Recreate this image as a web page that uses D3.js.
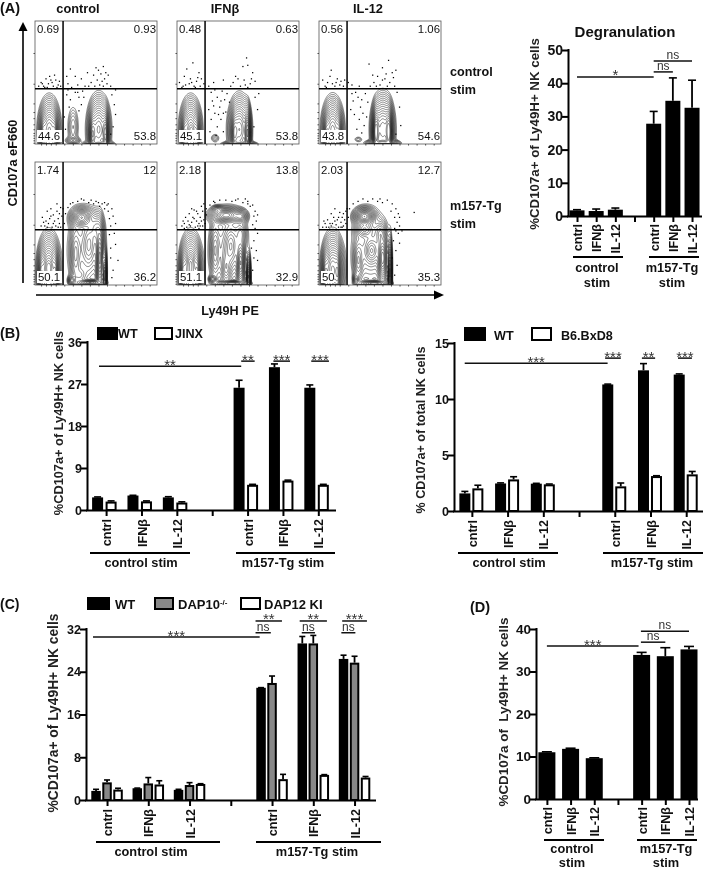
<!DOCTYPE html>
<html><head><meta charset="utf-8">
<script src="https://cdn.jsdelivr.net/npm/d3@7/dist/d3.min.js"></script>
<style>
html,body{margin:0;padding:0;background:#fff}
svg{display:block;filter:blur(.3px)}
text{font-family:"Liberation Sans",Arial,sans-serif;fill:#111}
</style></head><body><svg id="c" width="704" height="869"></svg>
<script>
// ---------- categories ----------
const categories = ['cntrl','IFNβ','IL-12','','cntrl','IFNβ','IL-12'];
const flowTitles = ['control','IFNβ','IL-12'];

// ---------- Panel A bars ----------
const aValues = [1.7,1.5,1.9,null,27.8,34.7,32.6];
const aErrors = [0.2,0.6,0.5,null,3.7,6.9,8.3];
const aSig = [[0,4,41.9,'*'],[4,5,43.4,'ns'],[4,6,46.7,'ns']];

// ---------- Panel B left ----------
const bWT = [2.7,3.1,2.7,null,26.2,30.6,26.2];
const bWTerr = [0.1,0.05,0.15,null,1.6,0.7,0.6];
const bJINX = [1.8,1.85,1.6,null,5.4,6.3,5.4];
const bJINXerr = [0.15,0.1,0.15,null,0.1,0.1,0.1];
const bSig = [[-0.2,3.82,30.8,'**'],[3.82,4.2,31.9,'**'],[4.73,5.2,31.9,'***'],[5.8,6.3,31.9,'***']];

// ---------- Panel B right ----------
const b2WT = [1.57,2.46,2.44,null,11.3,12.56,12.18];
const b2WTerr = [0.18,0.05,0.03,null,0.03,0.6,0.06];
const b2BxD8 = [2.02,2.82,2.38,null,2.2,3.12,3.27];
const b2BxD8err = [0.28,0.24,0.03,null,0.3,0.03,0.26];
const b2Sig = [[-0.2,3.8,13.2,'***'],[3.73,4.17,13.65,'***'],[4.76,5.13,13.65,'**'],[5.77,6.16,13.65,'***']];

// ---------- Panel C ----------
const cWT = [1.7,2.2,1.9,null,21,29.3,26.4];
const cWTerr = [0.3,0.03,0.1,null,0.03,1.3,0.7];
const cDAP10 = [3.3,3.1,2.8,null,21.9,29.3,25.7];
const cDAP10err = [0.45,1.1,0.45,null,1.3,1.5,1.2];
const cDAP12 = [1.95,2.9,3,null,3.9,4.7,4.2];
const cDAP12err = [0.25,0.7,0.05,null,0.9,0.05,0.2];
const cSig = [[-0.34,3.7,30.5,'***'],[3.6,4.24,33.5,'**'],[4.67,5.33,33.5,'**'],[5.7,6.3,33.5,'***'],
              [3.6,3.97,31.3,'ns'],[4.72,5.04,31.3,'ns'],[5.68,6.02,31.3,'ns']];

// ---------- Panel D ----------
const dValues = [11,11.8,9.6,null,33.9,33.6,35.2];
const dErrors = [0.1,0.15,0.1,null,0.6,2,0.7];
const dSig = [[0,3.87,36,'***'],[3.97,5,36.9,'ns'],[3.97,6,39.5,'ns']];

// ---------- Flow gate percentages: [UL, UR, LL, LR] ----------
const flowGatePct = [
  ['0.69','0.93','44.6','53.8'],['0.48','0.63','45.1','53.8'],['0.56','1.06','43.8','54.6'],
  ['1.74','12','50.1','36.2'],['2.18','13.8','51.1','32.9'],['2.03','12.7','50','35.3']];

// ---------- Flow populations: [cx, cy, sx, sy, weight] on a 0-100 plot scale ----------
const flowPops0 = [[11.5,11,4.9,14.5,.8],[6.5,8,1.6,9,.4],[16,9,1.6,9,.4],[52,12,5.2,15,.8],[47,8,1.7,10,.7],[57.5,8,1.5,11,.9],[52,0,7,1.5,.5],[31,14,3.5,13,.09],[31,3,4,2,.15]];
const flowPops1 = [[11,11,4.9,14.5,.8],[6,8,1.6,9,.4],[16,9,1.6,9,.4],[12,12,2,3,.3],[51,12,5.2,15,.75],[47,9,1.7,10,.5],[57.5,9,1.5,12,1.1],[51,0,8,1.5,.5],[31,5,3,3,.06]];
const flowPops2 = [[11,11,4.9,14.5,.85],[6,8,1.6,9,.4],[16,9,1.6,9,.4],[12,7,2,3,.3],[52,12,5.2,15.5,.9],[46.5,10,1.7,11,1.3],[57,10,1.7,11,1.3],[52,1,7,1.5,1],[32,4,3,2,.05]];
const flowPops3 = [[11,12,5,16,.95],[5,9,1.7,11,.4],[16.5,10,1.5,11,.4],[11,15,2,4,.25],[42,30,11,23,.12],[38,55,5.5,5,.6],[33,25,3,17,.2],[44,33,4,13,.2],[53,22,2,17,.8],[57,8,1,12,.7],[30,4,2,2.5,.3],[45,2,7,1.5,.5],[37,8,4,5,.1],[50,46,4,9,.2]];
const flowPops4 = [[11,12,5,16,.95],[5,9,1.7,11,.4],[16.5,10,1.5,11,.4],[11,19,2,4,.2],[42,30,11,23,.12],[40,57,8,3.8,.7],[52,56,3.5,3.5,.3],[33,62,3,1.8,.2],[31,28,2.8,16,.2],[44,32,4,12,.25],[40,14,3,10,.2],[52,18,2.2,12,.6],[58.5,7,1,10,.8],[45,1.5,8,1.4,.6],[29,5,2,2,.25],[52,42,3.5,7,.15]];
const flowPops5 = [[11,12,5,16,1],[5,9,1.7,11,.45],[15,10,1.5,12,.5],[42,30,11,23,.12],[37,56,5,4.2,.9],[37,45,5,4.2,.25],[32,20,2.8,12,.2],[43,28,4,7,.25],[52,22,2.5,12,.7],[58,10,1,16,.8],[45,1.5,8,1.4,.4],[30,5,1.6,3,.2],[50,42,3.5,7,.18]];
const contourLevels = [.022,.03,.04,.052,.068,.088,.112,.142,.18,.225,.28,.345,.42,.51,.62,.75,.92,1.15];

// ---------- Outlying events: [x, y] on the same scale ----------
const flowDots0 = [[3,47],[5,50],[7,47],[9,53],[11,49],[12,55],[14,50],[15,47],[17,52],[19,48],[20,51],[16,56],[8,46],[6,49],[10,46],[13,52],[18,46],[21,47],[26,55],[27,49],[29,61],[30,46],[33,55],[35,48],[38,53],[41,47],[43,58],[46,50],[48,56],[50,62],[52,60],[54,57],[56,63],[55,51],[57,53],[59,49],[60,56],[51,52],[53,48],[56,47],[49,47],[58,58],[44,47],[62,47],[26,40],[29,36],[33,42],[36,38],[39,43],[28,30],[40,38],[24,22],[63,40],[65,32],[66,24],[64,14],[62,8],[66,44],[25,12],[36,27],[27,44],[35,42],[38,32]];
const flowDots1 = [[2,50],[5,47],[6,55],[8,61],[10,49],[11,53],[13,66],[14,47],[16,51],[18,58],[19,47],[20,53],[22,49],[4,46],[7,48],[12,50],[15,46],[17,54],[26,47],[28,42],[29,35],[31,44],[33,38],[35,30],[37,43],[39,36],[41,41],[26,28],[28,20],[31,25],[33,14],[36,20],[38,10],[27,10],[32,7],[38,25],[34,24],[30,31],[36,35],[40,26],[43,34],[46,50],[48,55],[52,47],[54,63],[55,52],[57,70],[58,64],[60,49],[61,53],[62,58],[64,51],[50,53],[64,38],[66,28],[63,14],[67,41],[30,50],[38,52],[44,47],[56,48],[58,46]];
const flowDots2 = [[3,52],[5,47],[7,50],[9,55],[11,49],[13,47],[15,53],[17,48],[18,51],[20,47],[21,52],[10,60],[6,46],[14,50],[24,50],[27,48],[30,42],[28,35],[32,38],[34,30],[36,25],[29,24],[33,20],[37,15],[31,12],[38,41],[40,34],[27,41],[35,36],[42,47],[45,50],[48,55],[50,48],[52,62],[54,53],[55,57],[57,68],[58,50],[60,58],[61,54],[62,47],[63,60],[41,65],[44,56],[33,47],[52,52],[56,47],[47,47],[64,42],[66,30],[67,15],[63,8],[26,28],[39,22],[35,9]];
const flowDots3 = [[6,55],[8,48],[9,52],[10,60],[11,50],[12,54],[13,62],[14,47],[15,57],[16,52],[17,48],[18,60],[19,54],[20,50],[21,63],[22,56],[21,47],[18,66],[23,62],[25,58],[27,63],[29,66],[31,67],[35,68],[40,69],[44,67],[48,66],[50,68],[53,64],[55,66],[57,62],[59,65],[60,60],[61,54],[62,48],[63,62],[64,56],[65,42],[66,33],[68,20],[62,30],[64,12],[60,66],[66,50],[5,48],[24,50],[10,47],[15,50],[13,56],[7,51],[19,47],[20,58],[52,67],[57,67],[46,69],[38,70],[61,41],[62,22],[63,6]];
const flowDots4 = [[4,48],[6,50],[7,55],[8,47],[9,52],[10,58],[11,48],[12,51],[13,55],[14,61],[15,47],[16,52],[17,58],[18,50],[19,55],[20,64],[21,48],[21,60],[22,53],[22,66],[24,62],[24,57],[27,65],[31,67],[35,69],[40,69],[45,68],[50,70],[54,67],[58,68],[62,65],[64,60],[66,57],[60,64],[63,56],[65,52],[62,49],[64,46],[66,42],[63,36],[65,28],[66,20],[62,12],[58,66],[20,52],[17,48],[12,62],[5,52],[10,49],[14,54],[18,46],[16,60],[19,48],[23,50],[6,46],[61,30],[63,22],[48,69],[56,70],[30,68]];
const flowDots5 = [[3,47],[5,50],[7,53],[8,47],[10,58],[11,50],[12,55],[13,62],[14,49],[15,53],[16,47],[17,59],[18,51],[19,55],[20,48],[21,53],[22,60],[23,62],[25,62],[28,66],[32,68],[36,70],[40,68],[44,70],[48,68],[52,67],[56,69],[60,66],[63,62],[65,58],[59,60],[62,55],[64,51],[66,48],[62,46],[65,42],[66,34],[63,28],[64,16],[62,8],[66,55],[78,59],[68,44],[10,48],[19,47],[4,52],[6,47],[9,50],[13,52],[16,55],[18,47],[20,58],[22,50],[24,55],[61,36],[60,22],[63,44],[50,70]];

// ---------- layout ----------
const FW=122, FH=123;
const flowX=[35,177,319], flowY=[21,162];
const gateX=23, gateY=45;
const svg=d3.select('#c');

function txt(x,y,s,size,bold,opt={}){
  const t=svg.append('text').attr('x',x).attr('y',y).attr('font-size',size).text(s)
    .attr('text-anchor',opt.anchor||'start');
  if(bold)t.attr('font-weight','bold');
  if(opt.rot)t.attr('transform',`rotate(-90 ${x} ${y})`);
  if(opt.pre)t.style('white-space','pre');
  return t;
}
function rule(x1,y,x2,w){svg.append('line').attr('x1',x1).attr('x2',x2).attr('y1',y).attr('y2',y).attr('stroke','#000').attr('stroke-width',w||2);}

// ---------- flow plot ----------
function density(pops,n){
  const v=new Float64Array(n*n);
  for(let j=0;j<n;j++)for(let i=0;i<n;i++){
    const X=i/n*100, Y=100-j/n*100; let s=0;
    for(const [cx,cy,sx,sy,w] of pops){
      s+=w*Math.exp(-Math.pow(Math.hypot((X-cx)/sx,(Y-cy)/sy),1.7));
    }
    v[i+j*n]=s;
  }
  return v;
}
const clipDefs=svg.append('defs');
function flow(k,col,row,pops,dots){
  const x0=flowX[col],y0=flowY[row];
  const xs=d3.scaleLinear().domain([0,100]).range([x0,x0+FW]);
  const ys=d3.scaleLinear().domain([0,100]).range([y0+FH,y0]);
  const n=240;
  clipDefs.append('clipPath').attr('id','f'+k).append('rect').attr('x',x0).attr('y',y0).attr('width',FW).attr('height',FH);
  const g=svg.append('g').attr('clip-path',`url(#f${k})`);
  const cs=d3.contours().size([n,n]).thresholds(contourLevels)(density(pops,n));
  const proj=d3.geoTransform({point(px,py){this.stream.point(xs(px/n*100),ys(100-py/n*100));}});
  const path=d3.geoPath(proj);
  g.selectAll('path').data(cs).join('path').attr('d',path).attr('fill','none').attr('stroke','#111').attr('stroke-width',.6).attr('stroke-opacity',.85);
  g.selectAll('rect.dot').data(dots).join('rect').attr('class','dot').attr('x',d=>xs(d[0])-.6).attr('y',d=>ys(d[1])-.6).attr('width',1.25).attr('height',1.25).attr('fill','#000');
  // axes
  const minor=[1,3,5,7,9,12,16,21,26,33,49,74];
  const ya=d3.axisLeft(ys).tickValues(minor).tickSize(1.5).tickFormat('');
  const xa=d3.axisBottom(xs).tickValues([5,9,13,17,24,31,38,45,52,59,66,73,80,87,94]).tickSize(1.5).tickFormat('');
  svg.append('g').attr('transform',`translate(${x0},0)`).call(ya).call(s=>s.select('.domain').remove()).call(s=>s.selectAll('line').attr('stroke','#444'));
  svg.append('g').attr('transform',`translate(0,${y0+FH})`).call(xa).call(s=>s.select('.domain').remove()).call(s=>s.selectAll('line').attr('stroke','#444'));
  svg.append('rect').attr('x',x0).attr('y',y0).attr('width',FW).attr('height',FH).attr('fill','none').attr('stroke','#555').attr('stroke-width',.8);
  // gates
  svg.append('line').attr('x1',xs(gateX)).attr('x2',xs(gateX)).attr('y1',ys(0)).attr('y2',ys(100)).attr('stroke','#000').attr('stroke-width',1.5);
  svg.append('line').attr('x1',xs(0)).attr('x2',xs(100)).attr('y1',ys(gateY)).attr('y2',ys(gateY)).attr('stroke','#000').attr('stroke-width',1.5);
  // percentages
  const p=flowGatePct[k];
  txt(x0+2,y0+12,p[0],11.4,false);
  txt(x0+FW-1,y0+12,p[1],11.4,false,{anchor:'end'});
  const llw=p[2].length>2?25:13;
  svg.append('rect').attr('x',x0+2).attr('y',y0+FH-14).attr('width',llw).attr('height',12).attr('fill','#fff');
  txt(x0+3,y0+FH-4,p[2],11.4,false);
  svg.append('rect').attr('x',x0+FW-25).attr('y',y0+FH-14).attr('width',24).attr('height',12).attr('fill','#fff');
  txt(x0+FW-1,y0+FH-4,p[3],11.4,false,{anchor:'end'});
}
[flowPops0,flowPops1,flowPops2,flowPops3,flowPops4,flowPops5].forEach((pops,k)=>{
  flow(k,k%3,Math.floor(k/3),pops,[flowDots0,flowDots1,flowDots2,flowDots3,flowDots4,flowDots5][k]);
});
flowTitles.forEach((t,i)=>txt([78,225,368][i],12.5,t,12.8,true,{anchor:'middle'}));
[['control',76],['stim',94],['m157-Tg',210],['stim',228]].forEach(d=>txt(450,d[1],d[0],12.6,true));
txt(17,163,'CD107a eF660',12.8,true,{anchor:'middle',rot:true});
txt(230,315,'Ly49H PE',12.6,true,{anchor:'middle'});
// arrows
svg.append('line').attr('x1',23).attr('x2',23).attr('y1',283).attr('y2',30).attr('stroke','#000').attr('stroke-width',1.6);
svg.append('path').attr('d','M23,22L18.5,31L27.5,31Z').attr('fill','#000');
svg.append('line').attr('x1',36).attr('x2',435).attr('y1',295).attr('y2',295).attr('stroke','#000').attr('stroke-width',1.6);
svg.append('path').attr('d','M444,295L434,290.5L434,299.5Z').attr('fill','#000');

// ---------- bar panels ----------
function barPanel(o){
  const x=d3.scaleLinear().domain(o.xDomain).range([o.left,o.right]);
  const y=d3.scaleLinear().domain([0,o.yMax]).range([o.bottom,o.top]);
  o.series.forEach(s=>{
    const sw=s.stroke?2:0;
    const rows=s.values.map((v,i)=>({v,i,e:s.errors[i]})).filter(d=>d.v!=null);
    const g=svg.append('g');
    g.selectAll('line.eb').data(rows).join('line').attr('x1',d=>x(d.i)+s.off).attr('x2',d=>x(d.i)+s.off)
      .attr('y1',d=>y(d.v)).attr('y2',d=>y(d.v+d.e)).attr('stroke','#000').attr('stroke-width',1.8);
    g.selectAll('line.cap').data(rows).join('line').attr('x1',d=>x(d.i)+s.off-o.cap/2).attr('x2',d=>x(d.i)+s.off+o.cap/2)
      .attr('y1',d=>y(d.v+d.e)).attr('y2',d=>y(d.v+d.e)).attr('stroke','#000').attr('stroke-width',1.6);
    g.selectAll('rect').data(rows).join('rect')
      .attr('x',d=>x(d.i)+s.off-o.barW/2+sw/2).attr('width',o.barW-sw)
      .attr('y',d=>y(d.v)+sw/2).attr('height',d=>y(0)-y(d.v)-sw/2)
      .attr('fill',s.fill).attr('stroke',s.stroke?'#000':'none').attr('stroke-width',sw);
  });
  const ax=d3.axisBottom(x).tickValues(d3.range(7)).tickFormat(i=>categories[i]).tickSize(6).tickSizeOuter(0);
  const gx=svg.append('g').attr('transform',`translate(0,${o.bottom})`).call(ax);
  gx.select('.domain').attr('stroke-width',2).attr('stroke','#000').attr('d',`M${o.left-1},0.5H${o.right}`);
  gx.selectAll('.tick line').attr('stroke','#000').attr('stroke-width',2);
  gx.selectAll('.tick text').attr('transform','rotate(-90)').attr('text-anchor','end').attr('x',-o.labelGap).attr('y',0).attr('dy','.36em')
    .attr('font-weight','bold').attr('font-size',12.6).attr('font-family','"Liberation Sans",Arial,sans-serif');
  const ay=d3.axisLeft(y).tickValues(d3.range(0,o.yMax+1,o.yStep)).tickSize(6).tickSizeOuter(0);
  const gy=svg.append('g').attr('transform',`translate(${o.left},0)`).call(ay);
  gy.select('.domain').attr('stroke-width',2).attr('stroke','#000').attr('d',`M0.5,${o.top-1}V${o.bottom+1}`);
  gy.selectAll('.tick line').attr('stroke','#000').attr('stroke-width',2);
  gy.selectAll('.tick text').attr('font-weight','bold').attr('font-size',o.tickFont).attr('font-family','"Liberation Sans",Arial,sans-serif').attr('x',-5);
  o.sig.forEach(([a,b,v,l])=>{
    svg.append('line').attr('x1',x(a)).attr('x2',x(b)).attr('y1',y(v)).attr('y2',y(v)).attr('stroke','#111').attr('stroke-width',1.5);
    const xc=(x(a)+x(b))/2;
    if(l==='ns') txt(xc,y(v)-2,'ns',o.nsFont||12,false,{anchor:'middle'}).style('fill','#333');
    else txt(xc,y(v)+3.5,l,15,false,{anchor:'middle'}).style('fill','#333');
  });
  txt(o.ylab[0],o.ylab[1],o.ylab[2],o.ylab[3],true,{anchor:'middle',rot:true,pre:true}).style('fill','#222');
  o.groups.forEach(([x1,x2,yr,cx,lines])=>{
    rule(x1,yr,x2,2);
    lines.forEach(([s,by])=>txt(cx,by,s,o.groupFont||12.8,true,{anchor:'middle'}));
  });
}

const black={fill:'#000'}, white={fill:'#fff',stroke:true}, gray={fill:'#888',stroke:true};

barPanel({left:568,right:702,top:50,bottom:216,xDomain:[-.47,6.52],yMax:50,yStep:10,barW:15,cap:8,tickFont:14,labelGap:8,
  series:[{...black,values:aValues,errors:aErrors,off:0}],sig:aSig,
  ylab:[539,134,'%CD107a+ of Ly49H+ NK cells',13.3],
  groups:[[573,623,257,597,[['control',272],['stim',287]]],[649,699,257,672,[['m157-Tg',272],['stim',287]]]]});
txt(625,37,'Degranulation',15,true,{anchor:'middle'});

barPanel({left:87,right:336,top:342,bottom:510,xDomain:[-.54,6.5],yMax:36,yStep:9,barW:11,cap:7,tickFont:12.5,labelGap:9,
  series:[{...black,values:bWT,errors:bWTerr,off:-8.5},{...white,values:bJINX,errors:bJINXerr,off:5}],sig:bSig,
  ylab:[63,423,'%CD107a+ of Ly49H+ NK cells',12.8],
  groups:[[90,190,553,141,[['control stim',567]]],[236,335,553,283,[['m157-Tg stim',567]]]]});

barPanel({left:454,right:703,top:343,bottom:511,xDomain:[-.5,6.47],yMax:15,yStep:5,barW:11,cap:7,tickFont:12.5,labelGap:9,
  series:[{...black,values:b2WT,errors:b2WTerr,off:-7},{...white,values:b2BxD8,errors:b2BxD8err,off:6}],sig:b2Sig,
  ylab:[425,430,'% CD107a+ of total NK cells',12.6],
  groups:[[458,558,553,509,[['control stim',567]]],[603,703,553,652,[['m157-Tg stim',567]]]]});

barPanel({left:86,right:376,top:629,bottom:800,xDomain:[-.51,6.52],yMax:32,yStep:8,barW:9.5,cap:6,tickFont:12.5,labelGap:9,
  series:[{...black,values:cWT,errors:cWTerr,off:-11},{...gray,values:cDAP10,errors:cDAP10err,off:0},{...white,values:cDAP12,errors:cDAP12err,off:11}],sig:cSig,
  ylab:[58,713,'%CD107a+ of Ly49H+ NK cells',13.8],
  groups:[[96,220,842,151,[['control stim',856]]],[256,381,842,317,[['m157-Tg stim',856]]]]});

barPanel({left:536,right:698,top:629,bottom:799,xDomain:[-.46,6.38],yMax:40,yStep:10,barW:17,cap:10,tickFont:13.5,labelGap:8,
  series:[{...black,values:dValues,errors:dErrors,off:0}],sig:dSig,
  ylab:[508,712,'%CD107a of  Ly49H+ NK cells',13.4],
  groups:[[544,604,840,572,[['control',853],['stim',867]]],[637,697,840,666,[['m157-Tg',853],['stim',867]]]]});

// ---------- legends ----------
function swatch(x,y,w,h,fill){
  const st=fill!=='#000';
  svg.append('rect').attr('x',x+(st?1:0)).attr('y',y+(st?1:0)).attr('width',w-(st?2:0)).attr('height',h-(st?2:0)).attr('fill',fill).attr('stroke',st?'#000':'none').attr('stroke-width',2);
}
swatch(97,327,21,13,'#000'); txt(118,338,'WT',12.6,true);
swatch(154,327,19,13,'#fff'); txt(175,338,'JINX',12.6,true);
swatch(464,327,22,14,'#000'); txt(494,340,'WT',12.6,true);
swatch(531,327,21,14,'#fff'); txt(561,340,'B6.BxD8',12.6,true);
swatch(87,597,23,13,'#000'); txt(115,609,'WT',13,true);
swatch(154,597,20,13,'#888');
const dp=txt(178,609,'DAP10',13,true);
dp.append('tspan').attr('font-size',8).attr('dy',-4).text('-/-');
swatch(240,597,21,13,'#fff'); txt(264,609,'DAP12 KI',13,true);

// ---------- panel letters ----------
txt(0,13,'(A)',14.5,true); txt(0,338,'(B)',14.5,true); txt(0,609,'(C)',14,true); txt(470,612,'(D)',14.5,true);
</script></body></html>
